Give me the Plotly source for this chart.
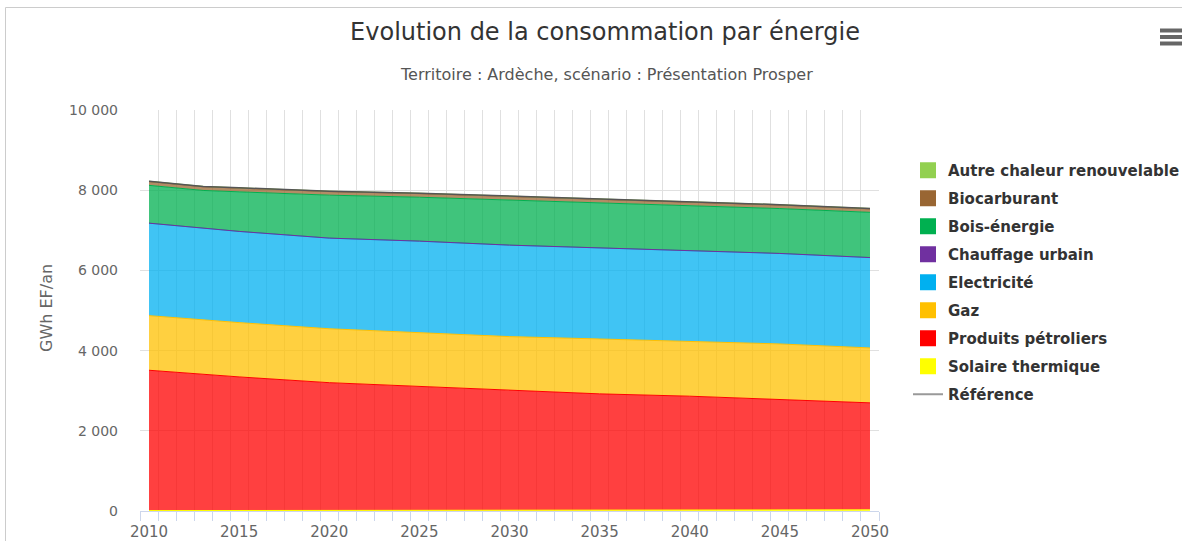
import numpy as np
import plotly.graph_objects as go

# ---------------- data ----------------
years = [2010, 2013, 2015, 2020, 2025, 2030, 2035, 2040, 2045, 2050]

solaire_thermique = [10, 12, 13, 15, 18, 20, 22, 25, 27, 30]
produits_petroliers = [3500, 3398, 3331, 3185, 3086, 2984, 2899, 2838, 2761, 2667]
gaz = [1362, 1355, 1354, 1345, 1352, 1345, 1369, 1369, 1378, 1369]
electricite = [2306, 2280, 2274, 2260, 2274, 2281, 2274, 2274, 2257, 2254]
chauffage_urbain = [0, 0, 0, 0, 0, 0, 0, 0, 0, 0]
bois_energie = [943, 949, 987, 1071, 1095, 1122, 1127, 1106, 1119, 1128]
biocarburant = [95, 93, 92, 90, 90, 88, 88, 87, 86, 85]
autre_chaleur = [8, 8, 9, 9, 10, 10, 11, 11, 12, 12]
reference = [8225, 8095, 8060, 7975, 7925, 7850, 7790, 7710, 7640, 7545]

y_tickvals = [0, 2000, 4000, 6000, 8000, 10000]
y_ticktext = ["0", "2 000", "4 000", "6 000", "8 000", "10 000"]
x_tickvals = [2010, 2015, 2020, 2025, 2030, 2035, 2040, 2045, 2050]

legend_names = ["Autre chaleur renouvelable", "Biocarburant", "Bois-énergie",
                "Chauffage urbain", "Electricité", "Gaz",
                "Produits pétroliers", "Solaire thermique"]
colors = {
    "Autre chaleur renouvelable": "#92D050",
    "Biocarburant": "#996633",
    "Bois-énergie": "#00B050",
    "Chauffage urbain": "#7030A0",
    "Electricité": "#00B0F0",
    "Gaz": "#FFC000",
    "Produits pétroliers": "#FF0000",
    "Solaire thermique": "#FFFF00",
}
series = {
    "Autre chaleur renouvelable": autre_chaleur,
    "Biocarburant": biocarburant,
    "Bois-énergie": bois_energie,
    "Chauffage urbain": chauffage_urbain,
    "Electricité": electricite,
    "Gaz": gaz,
    "Produits pétroliers": produits_petroliers,
    "Solaire thermique": solaire_thermique,
}


def rgba(hexc, a):
    h = hexc.lstrip("#")
    r, g, b = int(h[0:2], 16), int(h[2:4], 16), int(h[4:6], 16)
    return f"rgba({r},{g},{b},{a})"


FONT = "DejaVu Sans"
W, H = 1182, 541
# plot rectangle in pixels
SX0, SX1, SY0, SY1 = 140, 879, 110, 511
L, R = SX0, W - SX1
T, B = SY0, H - SY1
PW, PH = SX1 - SX0, SY1 - SY0


def px(xs):
    return (xs - SX0) / PW


def py(ys):
    return (SY1 - ys) / PH


fig = go.Figure()

for name in reversed(legend_names):
    fig.add_trace(go.Scatter(
        x=years, y=series[name], name=name, mode="lines",
        stackgroup="one", showlegend=False,
        line=dict(color=colors[name], width=1),
        fillcolor=rgba(colors[name], 0.75),
        hoverinfo="skip",
    ))

fig.add_trace(go.Scatter(
    x=years, y=reference, name="Référence", mode="lines", showlegend=False,
    line=dict(color="#555555", width=1.5), hoverinfo="skip",
))

for i, name in enumerate(legend_names):
    fig.add_trace(go.Scatter(
        x=[None], y=[None], name=name, mode="markers",
        marker=dict(symbol="square", size=16, color=colors[name]),
        legendgroup=f"g{i}", showlegend=True,
    ))
fig.add_trace(go.Scatter(
    x=[None], y=[None], name="Référence", mode="lines",
    line=dict(color="#999999", width=2),
    legendgroup="gref", showlegend=True,
))

minor_vals = list(np.arange(years[0] - 0.5, years[-1] + 1.0, 1.0))

fig.update_layout(
    width=W, height=H,
    margin=dict(l=L, r=R, t=T, b=B, autoexpand=False),
    paper_bgcolor="white", plot_bgcolor="white",
    font=dict(family=FONT, color="#666666"),
    title=dict(text="Evolution de la consommation par énergie",
               x=605 / W, xanchor="center",
               y=1 - 32 / H, yanchor="middle",
               font=dict(size=24, color="#333333", family=FONT)),
    showlegend=True,
    legend=dict(x=px(908), xanchor="left", y=py(154), yanchor="top",
                font=dict(size=15, color="#333333", family=FONT, weight="bold"),
                traceorder="grouped", tracegroupgap=5.5,
                bgcolor="rgba(0,0,0,0)", itemclick=False),
    xaxis=dict(range=[years[0] - 0.5, years[-1] + 0.5], automargin=False,
               tickmode="array", tickvals=x_tickvals,
               ticks="", showgrid=False, zeroline=False,
               showline=True, linecolor="#ccd6eb", linewidth=1,
               tickfont=dict(size=15, color="#666666"),
               ticklabelstandoff=7,
               minor=dict(tickmode="array", tickvals=minor_vals,
                          ticks="outside", ticklen=9, tickcolor="#ccd6eb",
                          tickwidth=1, showgrid=True, gridcolor="#e0e0e0",
                          gridwidth=1)),
    yaxis=dict(range=[0, 10000], automargin=False,
               tickmode="array", tickvals=y_tickvals,
               ticktext=y_ticktext, showgrid=True, gridcolor="#e0e0e0",
               zeroline=False, showline=False, ticks="",
               tickfont=dict(size=14, color="#666666"),
               ticklabelstandoff=21),
)

fig.add_annotation(text="Territoire : Ardèche, scénario : Présentation Prosper",
                   x=px(606), y=py(74), xref="paper", yref="paper",
                   showarrow=False, xanchor="center", yanchor="middle",
                   font=dict(size=16, color="#555555", family=FONT))
fig.add_annotation(text="GWh EF/an", x=px(46), y=py(308), xref="paper", yref="paper",
                   showarrow=False, textangle=-90, xanchor="center", yanchor="middle",
                   font=dict(size=16, color="#666666", family=FONT))

# outer container border (left and top edges visible)
fig.add_shape(type="rect", xref="paper", yref="paper",
              x0=px(5.5), x1=px(1300), y0=py(700), y1=py(7.5),
              line=dict(color="#cccccc", width=1), layer="above")
# menu (hamburger) icon
for yy in (30.5, 37, 43.5):
    fig.add_shape(type="line", xref="paper", yref="paper",
                  x0=px(1160), x1=px(1182), y0=py(yy), y1=py(yy),
                  line=dict(color="#666666", width=4), layer="above")

fig.write_html(
    "out.html",
    config={"displayModeBar": False},
    post_script="document.body.style.margin='0';document.body.style.overflow='hidden';",
)
